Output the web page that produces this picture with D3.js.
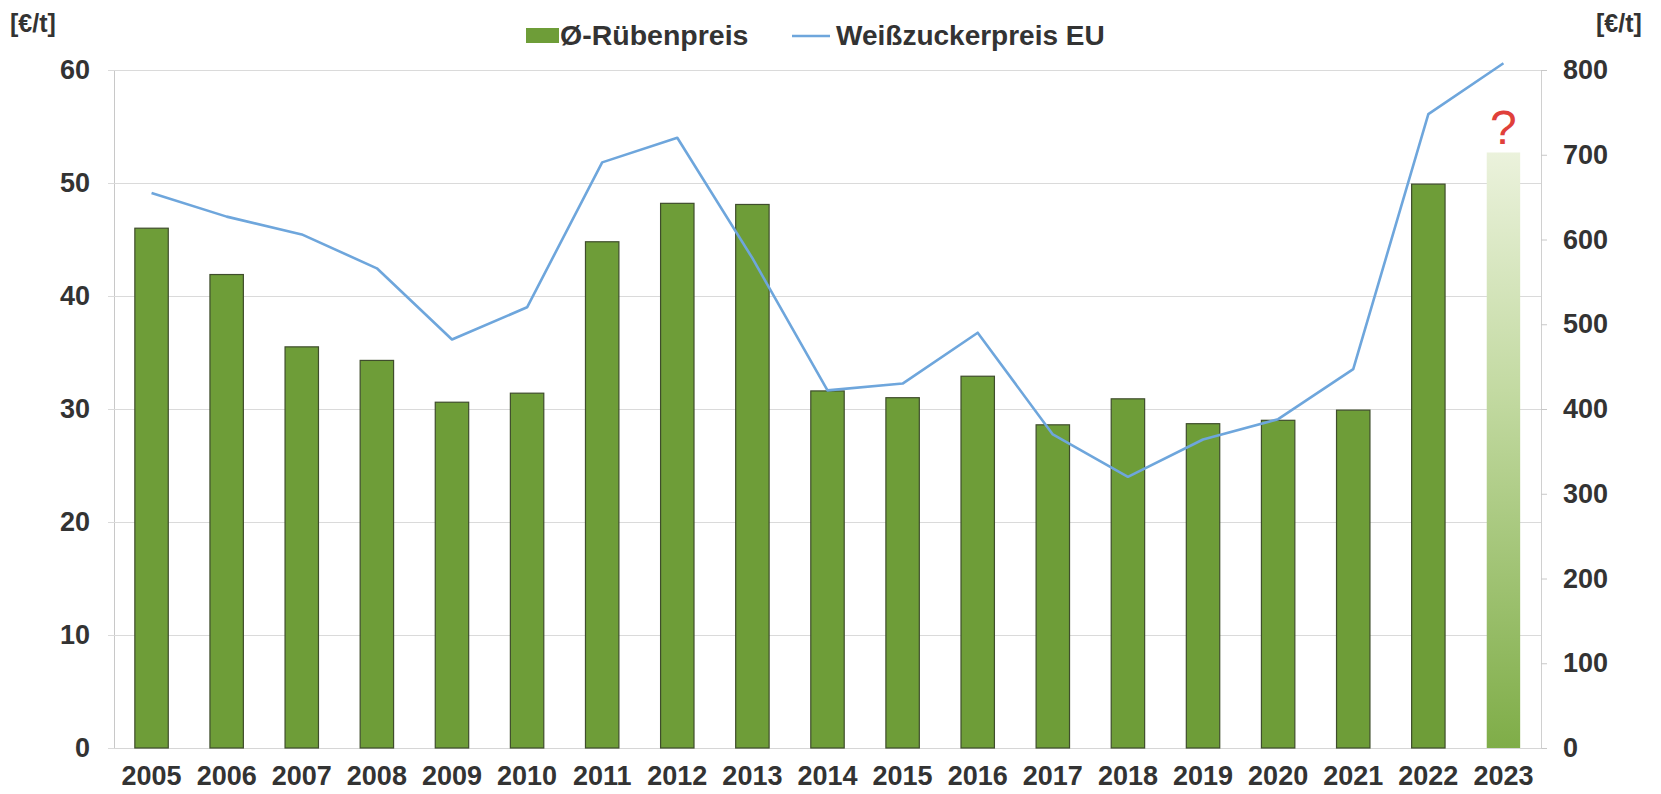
<!DOCTYPE html>
<html>
<head>
<meta charset="utf-8">
<script src="https://cdn.jsdelivr.net/npm/d3@7/dist/d3.min.js"></script>
<style>
  html, body { margin: 0; padding: 0; background: #fff; }
  svg { display: block; font-family: "Liberation Sans", Arial, sans-serif; }
</style>
</head>
<body>
<svg id="chart" width="1661" height="794"></svg>
<script>
const years = ["2005","2006","2007","2008","2009","2010","2011","2012","2013","2014","2015","2016","2017","2018","2019","2020","2021","2022","2023"];
const beetPrice = [46.0, 41.9, 35.5, 34.3, 30.6, 31.4, 44.8, 48.2, 48.1, 31.6, 31.0, 32.9, 28.6, 30.9, 28.7, 29.0, 29.9, 49.9, 52.7];
const sugarPrice = [655, 627, 606, 566, 482, 520, 691, 720, 578, 422, 430, 490, 370, 320, 364, 388, 447, 748, 808];
const leftTicks = [0, 10, 20, 30, 40, 50, 60];
const rightTicks = [0, 100, 200, 300, 400, 500, 600, 700, 800];
const seriesNames = ["Ø-Rübenpreis", "Weißzuckerpreis EU"];
const unitLabel = "[€/t]";
const uncertainYear = "2023";

const svg = d3.select("#chart");
const plot = { left: 114, right: 1541, top: 70, bottom: 748 };

const x = d3.scaleBand().domain(years).range([plot.left, plot.right])
  .paddingInner(0.555).paddingOuter(0.2775);
const yL = d3.scaleLinear().domain([0, 60]).range([plot.bottom, plot.top]);
const yR = d3.scaleLinear().domain([0, 800]).range([plot.bottom, plot.top]);

const textColor = "#333";
const green = "#6e9d38";

// gradient for uncertain bar
const defs = svg.append("defs");
const grad = defs.append("linearGradient").attr("id", "g23")
  .attr("x1", 0).attr("y1", 0).attr("x2", 0).attr("y2", 1);
grad.append("stop").attr("offset", "0%").attr("stop-color", "#ebf2dc");
grad.append("stop").attr("offset", "40%").attr("stop-color", "#c3daa2");
grad.append("stop").attr("offset", "100%").attr("stop-color", "#7fad48");

// gridlines (left axis)
const gLeft = svg.append("g").attr("transform", `translate(${plot.left},0)`)
  .call(d3.axisLeft(yL).tickValues(leftTicks).tickSize(-(plot.right - plot.left)).tickPadding(24).tickSizeOuter(0));
gLeft.select(".domain").attr("stroke", "#c8c8c8");
gLeft.selectAll(".tick line").attr("stroke", "#dadada").attr("x1", -6);
gLeft.selectAll(".tick text").attr("fill", textColor).attr("font-size", 27).attr("font-weight", "bold")
  .attr("font-family", "Liberation Sans, Arial, sans-serif");

// right axis
const gRight = svg.append("g").attr("transform", `translate(${plot.right},0)`)
  .call(d3.axisRight(yR).tickValues(rightTicks).tickSize(6).tickPadding(16).tickSizeOuter(0));
gRight.select(".domain").attr("stroke", "#d0d0d0");
gRight.selectAll(".tick line").attr("stroke", "#c8c8c8");
gRight.selectAll(".tick text").attr("fill", textColor).attr("font-size", 27).attr("font-weight", "bold")
  .attr("font-family", "Liberation Sans, Arial, sans-serif");

// bottom axis
const gBottom = svg.append("g").attr("transform", `translate(0,${plot.bottom})`)
  .call(d3.axisBottom(x).tickSize(0).tickPadding(18).tickSizeOuter(0));
gBottom.select(".domain").attr("stroke", "#d6d6d6");
gBottom.selectAll(".tick text").attr("fill", textColor).attr("font-size", 27).attr("font-weight", "bold")
  .attr("font-family", "Liberation Sans, Arial, sans-serif");

// bars
svg.append("g").selectAll("rect").data(years).join("rect")
  .attr("x", d => x(d))
  .attr("y", (d, i) => yL(beetPrice[i]))
  .attr("width", x.bandwidth())
  .attr("height", (d, i) => plot.bottom - yL(beetPrice[i]))
  .attr("fill", d => d === uncertainYear ? "url(#g23)" : green)
  .attr("stroke", d => d === uncertainYear ? "none" : "#3f4d2c")
  .attr("stroke-width", 1.2);

// question mark
const iU = years.indexOf(uncertainYear);
svg.append("text")
  .attr("x", x(uncertainYear) + x.bandwidth() / 2)
  .attr("y", yL(beetPrice[iU]) - 8)
  .attr("text-anchor", "middle")
  .attr("font-size", 48)
  .attr("fill", "#e0403a")
  .text("?");

// line
const line = d3.line()
  .x((d, i) => x(years[i]) + x.bandwidth() / 2)
  .y(d => yR(d));
svg.append("path").datum(sugarPrice)
  .attr("d", line)
  .attr("fill", "none")
  .attr("stroke", "#6ea6dc")
  .attr("stroke-width", 2.6)
  .attr("stroke-linejoin", "round");

// unit labels
svg.append("text").attr("x", 10).attr("y", 32).attr("font-size", 25).attr("font-weight", "bold")
  .attr("fill", textColor).text(unitLabel);
svg.append("text").attr("x", 1596).attr("y", 32).attr("font-size", 25).attr("font-weight", "bold")
  .attr("fill", textColor).text(unitLabel);

// legend
const leg = svg.append("g");
leg.append("rect").attr("x", 526).attr("y", 28).attr("width", 33).attr("height", 15).attr("fill", green);
leg.append("text").attr("x", 560).attr("y", 45).attr("font-size", 28.5).attr("font-weight", "bold")
  .attr("fill", textColor).text(seriesNames[0]);
leg.append("line").attr("x1", 792).attr("x2", 830).attr("y1", 36).attr("y2", 36)
  .attr("stroke", "#6ea6dc").attr("stroke-width", 2.6);
leg.append("text").attr("x", 836).attr("y", 45).attr("font-size", 28).attr("font-weight", "bold")
  .attr("fill", textColor).text(seriesNames[1]);
</script>
</body>
</html>
